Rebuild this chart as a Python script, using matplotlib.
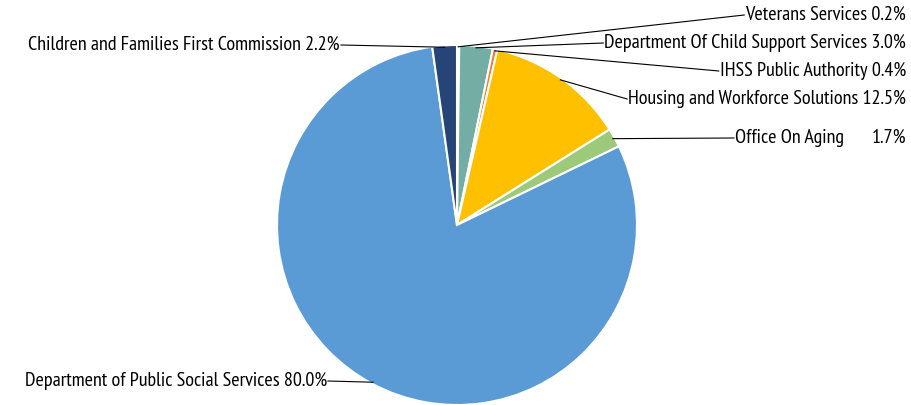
import matplotlib
matplotlib.use("Agg")
import matplotlib.pyplot as plt
from matplotlib import font_manager
import numpy as np

# 좁은(condensed) 글꼴 선택
available = set(f.name for f in font_manager.fontManager.ttflist)
prefer = ['PT Sans Narrow', 'Roboto Condensed', 'Fira Sans Condensed',
          'Open Sans Condensed', 'Liberation Sans Narrow', 'Archivo Narrow',
          'Encode Sans Condensed', 'Asap Condensed', 'Barlow Condensed']
font = next((p for p in prefer if p in available), None)
if font is None:
    cond = sorted(n for n in available if 'Condensed' in n or 'Narrow' in n)
    font = cond[0] if cond else 'Liberation Sans'
plt.rcParams['font.family'] = [font, 'DejaVu Sans']

# 데이터 (12시 방향부터 시계방향 순서)
labels = ['Veterans Services', 'Department Of Child Support Services',
          'IHSS Public Authority', 'Housing and Workforce Solutions',
          'Office On Aging', 'Department of Public Social Services',
          'Children and Families First Commission']
values = [0.2, 3.0, 0.4, 12.5, 1.7, 80.0, 2.2]
colors = ['#A9C1DC', '#73ADA3', '#ED7D31', '#FFC000', '#9DC97A', '#5B9BD5', '#264478']

# 라벨 위치 (픽셀 좌표, y는 위에서부터), 정렬
label_pos = [(906, 15, 'right'), (906, 43, 'right'), (906, 71, 'right'),
             (906, 99, 'right'), (735, 138, 'left'), (327, 381, 'right'),
             (340, 45, 'right')]

W, H = 911, 405
cx, cy, r = 457, 225, 180

fig = plt.figure(figsize=(W / 100, H / 100), dpi=100)
ax = fig.add_axes([0, 0, 1, 1])

# 기준 라벨 폭(약 330px)에 맞춰 글자 크기 결정
renderer = fig.canvas.get_renderer()
probe = fig.text(0, 0, 'Children and Families First Commission 2.2%', fontsize=12.5)
fs = min(14.5, 12.5 * 330 / probe.get_window_extent(renderer).width)
probe.remove()

wedges, _ = ax.pie(values, colors=colors, startangle=90, counterclock=False,
                   center=(cx, H - cy), radius=r,
                   wedgeprops=dict(edgecolor='white', linewidth=1.5))
ax.set_xlim(0, W)
ax.set_ylim(0, H)
ax.set_aspect('equal')
ax.axis('off')

for w, lab, v, (tx, ty, ha) in zip(wedges, labels, values, label_pos):
    ang = np.deg2rad((w.theta1 + w.theta2) / 2)
    px, py = cx + 0.99 * r * np.cos(ang), (H - cy) + 0.99 * r * np.sin(ang)
    if lab == 'Office On Aging':
        t = ax.text(tx, H - ty, lab, ha='left', va='center', fontsize=fs)
        ax.text(906, H - ty, f'{v:.1f}%', ha='right', va='center', fontsize=fs)
    else:
        t = ax.text(tx, H - ty, f'{lab} {v:.1f}%', ha=ha, va='center', fontsize=fs)
    # 선은 글자 끝에서 조각까지
    bb = t.get_window_extent(renderer).transformed(ax.transData.inverted())
    lx = bb.x0 - 1 if px < bb.x0 else bb.x1 + 1
    if lab == 'Office On Aging':
        lx = bb.x0 - 1
    ax.plot([px, lx], [py, H - ty], color='black', lw=0.8)

fig.savefig('out.png', dpi=100)
